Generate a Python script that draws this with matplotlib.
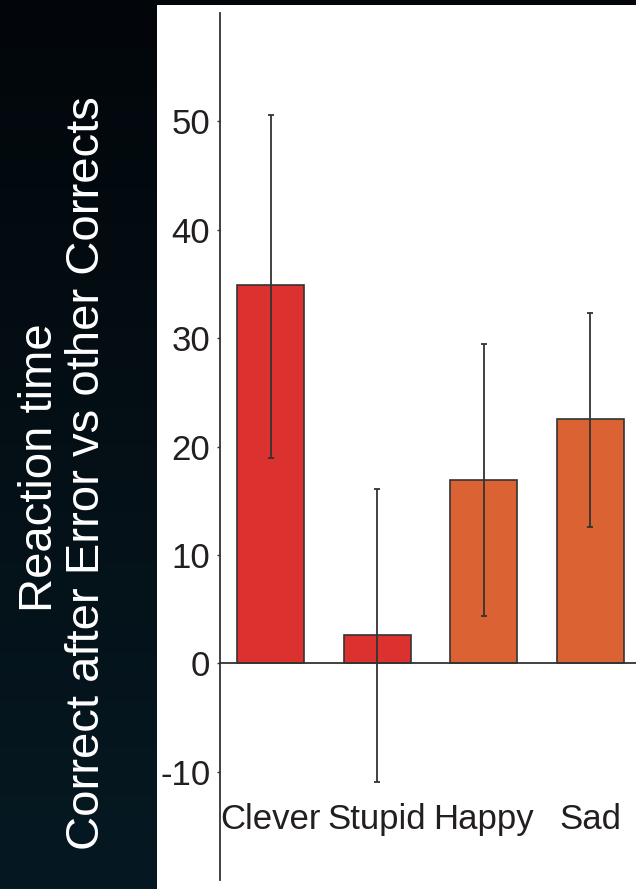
import numpy as np
import matplotlib
matplotlib.use("Agg")
import matplotlib.pyplot as plt
from matplotlib.patches import Rectangle

# data
categories = ["Clever", "Stupid", "Happy", "Sad"]
means = [34.9, 2.6, 16.9, 22.5]
err_low = [18.9, -11.0, 4.4, 12.6]
err_high = [50.6, 16.1, 29.5, 32.3]
bar_colors = ["#dc322f", "#dc322f", "#da6233", "#da6233"]
yticks = [-10, 0, 10, 20, 30, 40, 50]
ylabel_lines = ["Reaction time", "Correct after Error vs other Corrects"]

W, H, DPI = 636, 889, 100
ink = "#231f20"
plt.rcParams["font.family"] = ["Liberation Sans", "DejaVu Sans"]

fig = plt.figure(figsize=(W / DPI, H / DPI), dpi=DPI)

# dark gradient background + white panel
bg = fig.add_axes([0, 0, 1, 1])
grad = np.linspace(0, 1, 256).reshape(-1, 1)
top = np.array([2, 6, 10]) / 255.0
bot = np.array([6, 25, 34]) / 255.0
img = top + (bot - top) * grad[:, :, None]
bg.imshow(img, aspect="auto", extent=[0, 1, 0, 1], origin="upper")
bg.add_patch(Rectangle((157 / W, 0), 1 - 157 / W, 1 - 5 / H,
                       facecolor="white", edgecolor="none"))
bg.set_xlim(0, 1); bg.set_ylim(0, 1)
bg.axis("off")

# left panel label (two lines, rotated)
fig.text(52 / W, 1 - 468 / H, ylabel_lines[0], rotation=90, rotation_mode="anchor",
         ha="center", va="baseline", color="white", fontsize=34)
fig.text(99 / W, 1 - 473 / H, ylabel_lines[1], rotation=90, rotation_mode="anchor",
         ha="center", va="baseline", color="white", fontsize=34)

ax = fig.add_axes([220 / W, 1 - 880 / H, 1 - 220 / W, (880 - 13) / H])
ax.patch.set_alpha(0)
x = np.arange(len(categories))
yerr = [np.array(means) - np.array(err_low), np.array(err_high) - np.array(means)]
ax.bar(x, means, width=0.63, color=bar_colors, edgecolor="#333333", linewidth=1.2, zorder=2)
ax.errorbar(x, means, yerr=yerr, fmt="none", ecolor="#333333", elinewidth=1.3,
            capsize=2.5, capthick=1.3, zorder=3)

ax.set_xlim(-0.474, 3.43)
ax.set_ylim(-20, 60)
for s in ["top", "right"]:
    ax.spines[s].set_visible(False)
ax.spines["left"].set_color("#333333")
ax.spines["left"].set_linewidth(1.3)
ax.spines["bottom"].set_position(("data", 0))
ax.spines["bottom"].set_color("#333333")
ax.spines["bottom"].set_linewidth(1.3)
ax.set_xticks([])
ax.set_yticks(yticks)
ax.set_yticklabels([str(t) for t in yticks])
ax.tick_params(axis="y", length=2, width=1, colors="#333333", pad=5,
               labelsize=25, labelcolor=ink)

for xi, name in zip(x, categories):
    ax.text(xi, -15.3, name, ha="center", va="baseline", fontsize=25, color=ink)

fig.savefig("out.png", dpi=DPI)
